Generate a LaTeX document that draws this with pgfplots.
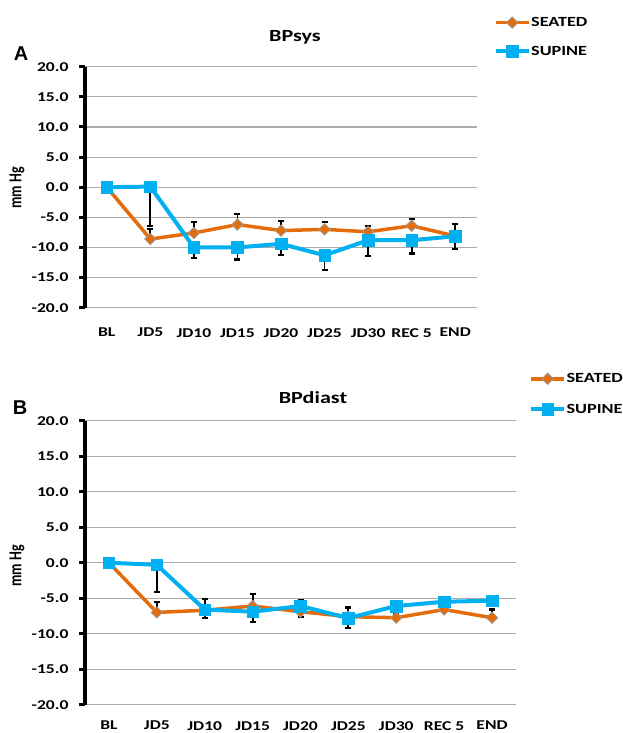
\documentclass[border=0pt]{standalone}
\usepackage{fontspec}
\usepackage{pgfplots}
\pgfplotsset{compat=1.18}
\setmainfont{Carlito}
\newfontfamily\calw[FakeStretch=1.3]{Carlito}
\newfontfamily\arialb{Liberation Sans}
\definecolor{seat}{HTML}{E46C0A}
\definecolor{sup}{HTML}{00B0F0}
\definecolor{gridc}{HTML}{ABABAB}

\pgfplotstableread{
x y e
0 0 0
1 -8.6 1.6
2 -7.6 1.8
3 -6.2 1.8
4 -7.2 1.6
5 -7.0 1.25
6 -7.4 0.9
7 -6.4 1.1
8 -8.1 1.95
}\sysseat
\pgfplotstableread{
x y e
0 0 0
1 0.1 6.5
2 -10.0 1.7
3 -10.0 2.0
4 -9.4 1.8
5 -11.3 2.4
6 -8.8 2.6
7 -8.8 2.2
8 -8.15 2.15
}\syssup
\pgfplotstableread{
x y e
0 0 0
1 -7.0 1.5
2 -6.7 1.6
3 -6.1 1.7
4 -6.9 1.65
5 -7.6 1.3
6 -7.75 0.6
7 -6.6 0.5
8 -7.75 1.15
}\diaseat
\pgfplotstableread{
x y e
0 0 0
1 -0.3 3.8
2 -6.6 1.2
3 -6.9 1.4
4 -6.1 1.5
5 -7.8 1.45
6 -6.1 0.6
7 -5.5 0.5
8 -5.35 0.5
}\diasup

\pgfplotsset{
  bpstyle/.style={
    scale only axis,
    xmin=-0.5, xmax=8.5, ymin=-20, ymax=20,
    ytick={-20,-15,...,20},
    xtick={0,...,8},
    xticklabels={BL,JD5,JD10,JD15,JD20,JD25,JD30,REC 5,END},
    axis y line*=left,
    axis x line*=bottom,
    x axis line style={draw=none},
    y axis line style={-, black, line width=3.5pt},
    xtick style={draw=none},
    ytick style={black, line width=3pt},
    major tick length=6pt,
    tick align=outside,
    ymajorgrids,
    grid style={gridc, line width=1.1pt},
    /pgf/number format/assume math mode=true,
    yticklabel={\pgfmathprintnumber[fixed,fixed zerofill,precision=1]{\tick}},
    yticklabel style={font=\calw\bfseries\fontsize{13.5}{14}\selectfont, xshift=-7pt},
    xticklabel style={font=\calw\bfseries\fontsize{13.5}{14}\selectfont},
    legend style={draw=none, fill=none, inner sep=0pt,
      font=\calw\bfseries\fontsize{14}{15}\selectfont,
      nodes={inner sep=0.5pt}, anchor=north west,
      legend cell align=left},
    legend image code/.code={\draw[mark repeat=2,mark phase=2,#1] plot coordinates {(0pt,0pt) (16.5pt,0pt) (33pt,0pt)};},
    clip=false,
  },
  seatstyle/.style={seat, line width=3.5pt, mark=square*, mark size=4pt,
    mark options={rotate=45, fill=seat, draw=gray!80, line width=0.8pt}},
  supstyle/.style={sup, line width=4pt, mark=square*, mark size=5.8pt,
    mark options={fill=sup, draw=sup, line width=0.5pt}},
  ebplus/.style={error bars/.cd, y dir=plus, y explicit,
    error bar style={black, line width=1.8pt},
    error mark=-,
    error mark options={black, line width=2.2pt, mark size=3pt, rotate=90}},
  ebminus/.style={error bars/.cd, y dir=minus, y explicit,
    error bar style={black, line width=1.8pt},
    error mark=-,
    error mark options={black, line width=2.2pt, mark size=3pt, rotate=90}},
}

\begin{document}
\begin{tikzpicture}
\useasboundingbox (0,0) rectangle (622pt,-733pt);
\begin{axis}[bpstyle, at={(85pt,-307.7pt)}, anchor=south west,
  width=392pt, height=241pt,
  xticklabel style={yshift=-11pt},
  legend style={at={(1.042,1.208)}, row sep=17pt}]
\addplot[seatstyle, ebplus] table[x=x, y=y, y error=e] {\sysseat};
\addplot[supstyle, ebminus] table[x=x, y=y, y error=e] {\syssup};
\legend{SEATED,SUPINE}
\end{axis}
\node[font=\arialb\bfseries\fontsize{20}{20}\selectfont] at (21pt,-53.5pt) {A};
\node[font=\calw\bfseries\fontsize{17}{18}\selectfont] at (295pt,-37.5pt) {BPsys};
\node[rotate=90, yscale=1.3, transform shape, font=\bfseries\fontsize{14}{15}\selectfont] at (17pt,-188pt) {mm Hg};

\begin{axis}[bpstyle, at={(85pt,-704.7pt)}, anchor=south west,
  width=431pt, height=284pt,
  xticklabel style={yshift=-7pt},
  legend style={at={(1.03,1.169)}, row sep=19pt}]
\addplot[seatstyle, ebplus] table[x=x, y=y, y error=e] {\diaseat};
\addplot[supstyle, ebminus] table[x=x, y=y, y error=e] {\diasup};
\legend{SEATED,SUPINE}
\end{axis}
\node[font=\arialb\bfseries\fontsize{20}{20}\selectfont] at (20pt,-408pt) {B};
\node[font=\calw\bfseries\fontsize{17}{18}\selectfont] at (313pt,-398pt) {BPdiast};
\node[rotate=90, yscale=1.3, transform shape, font=\bfseries\fontsize{14}{15}\selectfont] at (17pt,-566pt) {mm Hg};
\end{tikzpicture}
\end{document}
